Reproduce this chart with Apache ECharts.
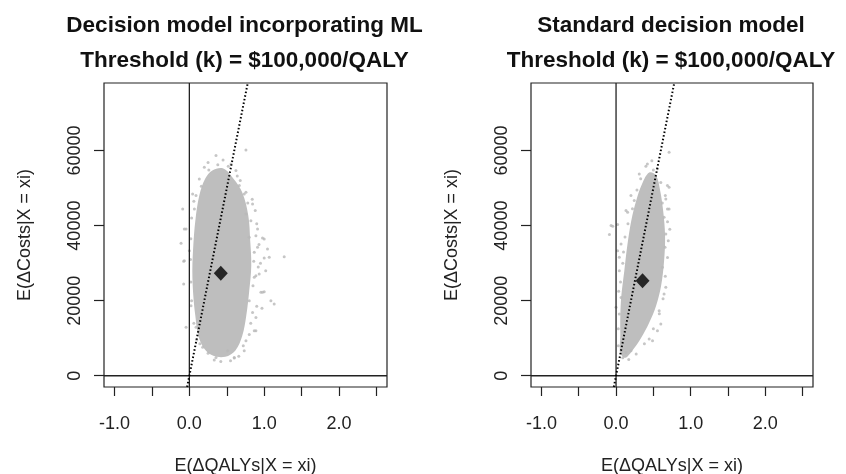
<!DOCTYPE html>
<html>
<head>
<meta charset="utf-8">
<script src="https://cdn.jsdelivr.net/npm/echarts@6/dist/echarts.min.js"></script>
<style>html,body{margin:0;padding:0;background:#fff}#c{width:846px;height:474px}</style>
</head>
<body>
<div id="c"></div>
<script>
// ---- data ----
const panelTitles = ['Decision model incorporating ML\nThreshold (k) = $100,000/QALY',
                     'Standard decision model\nThreshold (k) = $100,000/QALY'];
const xAxisTitle = 'E(\u0394QALYs|X = xi)';
const yAxisTitle = 'E(\u0394Costs|X = xi)';
const xLim = [-1.14, 2.64];
const yLim = [-3000, 78000];
const xTickValues = [-1, -0.5, 0, 0.5, 1, 1.5, 2, 2.5];
const xLabelValues = [-1, 0, 1, 2];
const yTickValues = [0, 20000, 40000, 60000];
const thresholdK = 100000;

// mean (expected) incremental QALYs / costs
const meanML = [[0.42, 27300]];
const meanStd = [[0.355, 25300]];

// outline of the dense part of the simulation cloud
const cloudML = [[0.307,54670],[0.453,55200],[0.587,52530],[0.707,48800],[0.787,42670],[0.813,36000],
  [0.827,29330],[0.8,22670],[0.76,16000],[0.707,10670],[0.613,6670],[0.48,5070],[0.32,5330],[0.2,7200],
  [0.12,10670],[0.08,16000],[0.053,21330],[0.04,28000],[0.053,34670],[0.08,41330],[0.133,48000],[0.213,52530]];
const cloudStd = [[0.444,54130],[0.537,53330],[0.591,49330],[0.631,44000],[0.657,37330],[0.644,30670],
  [0.604,24000],[0.537,18670],[0.444,14130],[0.337,10130],[0.217,6670],[0.124,4800],[0.057,6130],
  [0.057,10670],[0.057,16000],[0.071,21330],[0.111,28000],[0.151,34670],[0.204,41330],[0.271,46670],[0.351,51200]];

// scattered simulations outside the dense part
const pointsML = [[0.356,58670],[0.756,60180],[0.2,55550],[-0.089,44450],[-0.067,39120],[-0.111,35280],
  [-0.076,30480],[-0.076,24450],[1.267,31730],[1.067,31550],[1.0,31380],[1.044,33780],[0.977,36720],
  [0.911,39120],[0.88,44000],[0.756,48880],[0.667,50670],[0.622,54670],[0.556,56450],[0.956,22220],
  [1.0,22400],[1.089,20000],[1.133,19120],[0.889,15550],[0.889,12000],[0.756,9330],[0.733,6670],
  [0.6,4710],[0.356,4890],[0.178,7560],[0.089,12890],[0.022,18670],[0.867,26220],[0.933,27110],
  [0.8,20000],[0.844,16880],[0.044,48450],[0.133,52450],[0.756,43120],[0.822,41330],[0.8,36890],
  [0.867,32890],[0.089,48000],[0.067,44450],[0.733,48450],[0.844,45780],[0.889,37330],[1.0,36450],
  [0.911,34220],[-0.044,39120],[0.0,33330],[0.889,26670],[0.978,22220],[0.867,12000],[0.511,6670],
  [0.6,4890],[0.333,4200],[-0.067,30670],[-0.044,12890],[0.25,56800],[0.45,57500],[0.68,52000],
  [0.84,47000],[0.9,40500],[0.93,35000],[0.86,30500],[0.92,29000],[0.85,24000],[0.9,18500],[0.82,14000],
  [0.8,11000],[0.72,8000],[0.66,5200],[0.55,4000],[0.42,3800],[0.25,6000],[0.14,8500],[0.1,9500],
  [0.06,14000],[0.03,20000],[0.02,25000],[0.015,31000],[0.02,36500],[0.03,42000],[0.06,46500],[0.16,50500],
  [0.26,54800],[0.38,56200],[0.52,55800],[0.64,53200],[0.78,46000],[0.95,30000],[1.02,28000],[0.97,18000]];
const pointsStd = [[0.711,59550],[0.555,55120],[0.311,53780],[0.711,50220],[0.667,47110],[0.689,44450],
  [0.644,42220],[0.2,48000],[0.244,46670],[-0.089,37600],[-0.045,39820],[0.021,40270],[0.067,35120],
  [0.044,31550],[0.667,23550],[0.644,21780],[0.578,17330],[0.555,12000],[0.444,9780],[0.2,6670],
  [0.133,6220],[0.067,6670],[0.044,16450],[0.067,20880],[0.667,37780],[0.657,34220],[0.621,28880],
  [0.155,43550],[0.689,50670],[0.711,44450],[0.133,44000],[-0.067,40000],[0.021,33330],[0.044,28000],
  [0.0,18220],[0.6,13780],[0.489,9330],[0.42,56400],[0.48,57300],
  [0.40,55800],[0.5,54800],[0.6,51500],[0.66,48000],[0.69,41000],[0.7,36000],[0.69,31500],[0.66,26500],
  [0.63,20500],[0.58,16500],[0.5,12500],[0.38,8500],[0.27,5800],[0.17,4300],[0.09,4800],[0.03,8000],
  [0.03,12500],[0.035,22500],[0.06,25000],[0.09,30000],[0.12,37000],[0.16,40500],[0.22,44500],[0.28,49500],
  [0.33,52500],[0.1,33000],[0.72,39000],[0.62,46000]];

// ---- chart ----
const FONT = '"Liberation Sans", Arial, sans-serif';
const grids = [
  {left: 104, top: 83, width: 283, height: 304},
  {left: 531, top: 83, width: 282, height: 304}
];
const chart = echarts.init(document.getElementById('c'), null, {renderer: 'canvas'});

function polygonSeries(i, pts) {
  return {
    type: 'custom', xAxisIndex: i, yAxisIndex: i, data: pts, z: 1, silent: true, clip: true,
    renderItem: function (params, api) {
      if (params.dataIndex !== 0) return;
      const points = pts.map(p => api.coord(p));
      return {type: 'polygon', shape: {points: points, smooth: 0.35}, style: {fill: '#bebebe'}};
    }
  };
}

const thresholdLine = [[yLim[0] / thresholdK, yLim[0]], [yLim[1] / thresholdK, yLim[1]]];
const series = [];
[[cloudML, pointsML, meanML], [cloudStd, pointsStd, meanStd]].forEach(function (d, i) {
  series.push(polygonSeries(i, d[0]));
  series.push({type: 'scatter', xAxisIndex: i, yAxisIndex: i, data: d[1], symbol: 'circle', symbolSize: 3,
    itemStyle: {color: '#b8b8b8'}, z: 2, silent: true});
  series.push({type: 'line', xAxisIndex: i, yAxisIndex: i, data: [[0, yLim[0]], [0, yLim[1]]], symbol: 'none',
    lineStyle: {color: '#222', width: 1.3}, z: 3, silent: true});
  series.push({type: 'line', xAxisIndex: i, yAxisIndex: i, data: [[xLim[0], 0], [xLim[1], 0]], symbol: 'none',
    lineStyle: {color: '#222', width: 1.3}, z: 3, silent: true});
  series.push({type: 'line', xAxisIndex: i, yAxisIndex: i, data: thresholdLine, symbol: 'none',
    lineStyle: {color: '#000', width: 2, type: [1.5, 2.2]}, z: 4, silent: true});
  series.push({type: 'scatter', xAxisIndex: i, yAxisIndex: i, data: d[2], symbol: 'diamond', symbolSize: [14, 15],
    itemStyle: {color: '#000'}, z: 5, silent: true});
});

function xAxis(i) {
  return {
    type: 'value', gridIndex: i, min: xLim[0], max: xLim[1], position: 'bottom',
    axisLine: {show: false, onZero: false},
    splitLine: {show: false},
    axisTick: {show: true, inside: false, length: 9, customValues: xTickValues, lineStyle: {color: '#222', width: 1.2}},
    axisLabel: {show: true, customValues: xLabelValues, margin: 28, fontFamily: FONT, fontSize: 18, color: '#222',
      formatter: v => v.toFixed(1)},
    name: xAxisTitle, nameLocation: 'middle', nameGap: 70,
    nameTextStyle: {fontFamily: FONT, fontSize: 18, color: '#222'}
  };
}
function yAxis(i) {
  return {
    type: 'value', gridIndex: i, min: yLim[0], max: yLim[1], position: 'left',
    axisLine: {show: false, onZero: false},
    splitLine: {show: false},
    axisTick: {show: true, inside: false, length: 10, customValues: yTickValues, lineStyle: {color: '#222', width: 1.2}},
    axisLabel: {show: true, customValues: yTickValues, rotate: 90, margin: 20, fontFamily: FONT, fontSize: 18, color: '#222',
      formatter: v => String(v)},
    name: yAxisTitle, nameLocation: 'middle', nameGap: 70, nameRotate: 90,
    nameTextStyle: {fontFamily: FONT, fontSize: 18, color: '#222'}
  };
}

chart.setOption({
  animation: false,
  backgroundColor: '#fff',
  title: panelTitles.map(function (t, i) {
    return {text: t, left: grids[i].left + grids[i].width / 2 - 6, top: 3, textAlign: 'center',
      textStyle: {fontFamily: FONT, fontWeight: 'bold', fontSize: 22.5, lineHeight: 35, color: '#111'}};
  }),
  grid: grids.map(g => Object.assign({show: true, borderColor: '#222', borderWidth: 1.2, backgroundColor: 'transparent',
    containLabel: false, outerBoundsMode: 'none'}, g)),
  xAxis: [xAxis(0), xAxis(1)],
  yAxis: [yAxis(0), yAxis(1)],
  series: series
});
</script>
</body>
</html>
